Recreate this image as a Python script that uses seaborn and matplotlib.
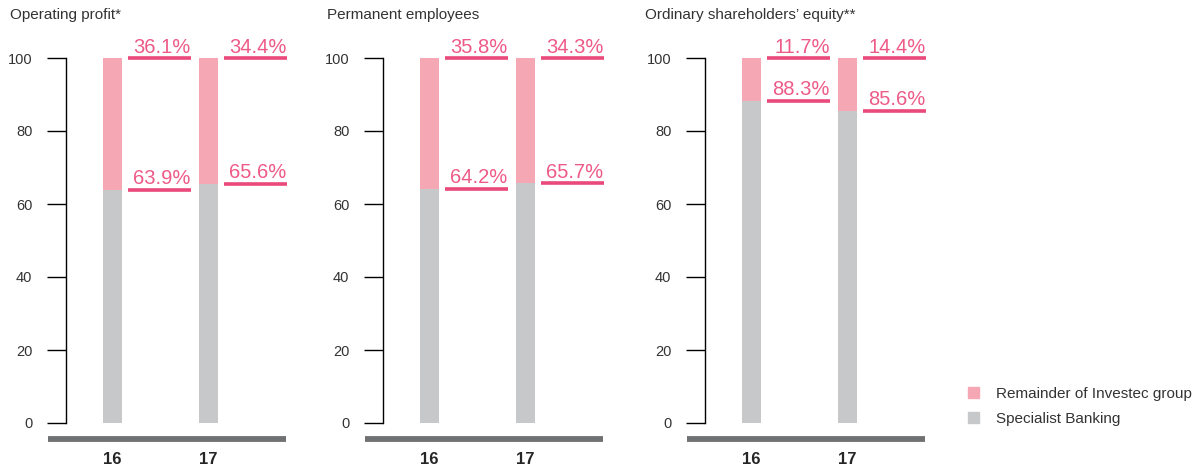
import pandas as pd
import matplotlib.pyplot as plt
import seaborn as sns
from matplotlib.patches import Patch

# data
years = ["16", "17"]
panel_titles = ["Operating profit*", "Permanent employees", "Ordinary shareholders\u2019 equity**"]
specialist_banking = [[63.9, 65.6], [64.2, 65.7], [88.3, 85.6]]
remainder_group = [[36.1, 34.4], [35.8, 34.3], [11.7, 14.4]]
y_ticks = [0, 20, 40, 60, 80, 100]
legend_labels = ["Remainder of Investec group", "Specialist Banking"]

PINK_BAR = "#f5a8b3"
GREY_BAR = "#c7c8ca"
PINK_TEXT = "#ee5a88"
PINK_LINE = "#e9497b"
BASE_GREY = "#707173"

sns.set_style("white")
plt.rcParams["font.family"] = ["Liberation Sans", "DejaVu Sans"]

W, H = 1200, 471
fig = plt.figure(figsize=(12, 4.71), dpi=100)

axis_left_px = [66, 383, 705]
ax_width_px = 222
unit_px = 96.0

for i, x0 in enumerate(axis_left_px):
    ax = fig.add_axes([x0 / W, (H - 423) / H, ax_width_px / W, 365 / H])
    df = pd.DataFrame({
        "year": years,
        "specialist": specialist_banking[i],
        "remainder": remainder_group[i],
    })
    df["total"] = df["specialist"] + df["remainder"]

    # stacked bars: full height in pink, specialist share in grey on top
    sns.barplot(data=df, x="year", y="total", color=PINK_BAR, saturation=1,
                width=0.2, errorbar=None, linewidth=0, ax=ax)
    sns.barplot(data=df, x="year", y="specialist", color=GREY_BAR, saturation=1,
                width=0.2, errorbar=None, linewidth=0, ax=ax)

    # value labels with underline, to the right of each bar
    for j, row in df.iterrows():
        x_start = j + 15.5 / unit_px
        x_end = j + 78 / unit_px
        for y_val, txt in [(row["total"], row["remainder"]), (row["specialist"], row["specialist"])]:
            ax.hlines(y_val, x_start, x_end, color=PINK_LINE, lw=2.6, clip_on=False)
            ax.annotate(f"{txt:.1f}%", xy=(x_end, y_val), xytext=(0, 3.8),
                        textcoords="offset points", ha="right", va="baseline",
                        fontsize=14.5, color=PINK_TEXT, annotation_clip=False)

    ax.set_xlim(-46.5 / unit_px, 1 + (ax_width_px - 142.5) / unit_px)
    ax.set_ylim(0, 100)
    ax.set_yticks(y_ticks)
    ax.set_xlabel("")
    ax.set_ylabel("")
    sns.despine(ax=ax, top=True, right=True, bottom=True, left=False)
    ax.spines["left"].set_linewidth(1.0)
    ax.spines["left"].set_color("black")
    ax.tick_params(axis="y", direction="out", length=13.7, width=1.0, color="black",
                   pad=10.5, labelsize=10.5, labelcolor="#333333", left=True)
    ax.tick_params(axis="x", length=0, pad=21, labelsize=12)
    for lbl in ax.get_xticklabels():
        lbl.set_fontweight("bold")

    # thick grey baseline under each panel
    ax.axhline(-16 / 3.65, xmin=-18 / ax_width_px, xmax=220 / ax_width_px,
               color=BASE_GREY, lw=4.2, clip_on=False, solid_capstyle="butt")

    ax.text(-56 / ax_width_px + (0 if i < 2 else -0.02), 1 + 43 / 365, panel_titles[i],
            transform=ax.transAxes, ha="left", va="center", fontsize=11, color="#333333")

handles = [Patch(color=PINK_BAR), Patch(color=GREY_BAR)]
fig.legend(handles, legend_labels, loc="upper left",
           bbox_to_anchor=(968 / W, 1 - 387 / H), frameon=False, fontsize=11,
           handlelength=0.72, handleheight=0.72, handletextpad=1.1,
           labelspacing=0.72, borderpad=0, borderaxespad=0,
           labelcolor="#333333")

fig.savefig("out.png", dpi=100)
